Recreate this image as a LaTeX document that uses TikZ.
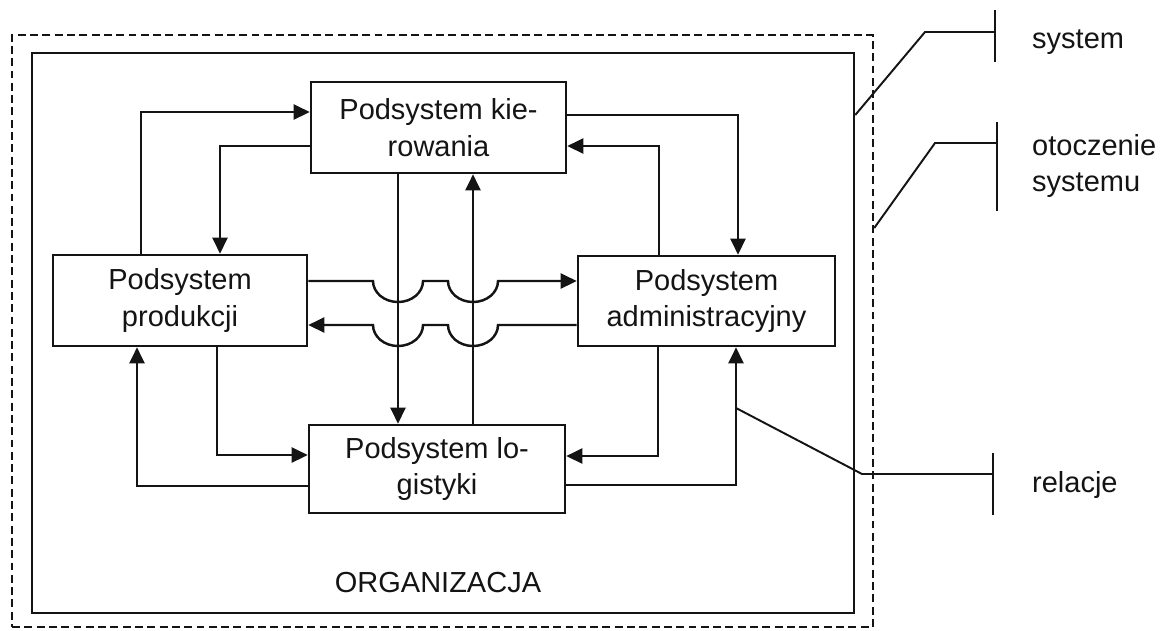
\documentclass[tikz,border=0pt]{standalone}
\usepackage{fontspec}
\setmainfont{Liberation Sans}
\usetikzlibrary{arrows.meta,calc}
\definecolor{osink}{HTML}{141414}
\tikzset{
  os text/.style={font=\fontsize{16.5}{21}\selectfont, text=osink},
  os box/.style={draw=osink, line width=1.5pt, fill=white, inner sep=0pt,
    minimum width=5.1cm, minimum height=1.8cm, align=center},
  os frame/.style={draw=osink, line width=1.5pt, inner sep=0pt},
  os env/.style={draw=osink, line width=1.5pt, inner sep=0pt,
    dash pattern=on 4.5pt off 2.5pt},
  os arrow/.style={-{Triangle[length=0.32cm,width=0.3cm]}, line width=1.4pt,
    draw=osink},
  os leader/.style={line width=1.1pt, draw=osink},
  os label/.style={anchor=west, align=left}
}
\begin{document}
\begin{tikzpicture}[os text, x=0.02cm, y=-0.02cm]
  \useasboundingbox (0,0) rectangle (1166,630);
  \node[os env, minimum width=17.22cm, minimum height=11.84cm] (env) at (442.5,331) {};
  \node[os frame, minimum width=16.44cm, minimum height=11.2cm] (org) at (443,333) {};
  \node (orgname) at (438,583) {ORGANIZACJA};
  \node[os box, minimum width=5.1cm, minimum height=1.82cm] (kier) at (438.5,127.5) {Podsystem kie-\\rowania};
  \node[os box, minimum width=5.08cm, minimum height=1.82cm] (prod) at (180,300.5) {Podsystem\\produkcji};
  \node[os box, minimum width=5.14cm] (adm) at (706.5,301) {Podsystem\\administracyjny};
  \node[os box, minimum width=5.12cm, minimum height=1.76cm] (log) at (437,469) {Podsystem lo-\\gistyki};
  % bend points
  \coordinate (b1) at (141,112);
  \coordinate (b2) at (220,146);
  \coordinate (b5) at (738,115);
  \coordinate (b6) at (659,146);
  \coordinate (b9) at (217,455);
  \coordinate (b10) at (137,486);
  \coordinate (b11) at (658,456);
  \coordinate (b12) at (736,485);
  \coordinate (v1) at (398,0);
  \coordinate (v2) at (473,0);
  \coordinate (h1) at (0,281);
  \coordinate (h2) at (0,325);
  % relations
  \draw[os arrow] (prod.north -| b1) -- (b1) -- (b1 -| kier.west);
  \draw[os arrow] (kier.west |- b2) -- (b2) -- (b2 |- prod.north);
  \draw[os arrow] (kier.south -| v1) -- (v1 |- log.north);
  \draw[os arrow] (log.north -| v2) -- (v2 |- kier.south);
  \draw[os arrow] (kier.east |- b5) -- (b5) -- (b5 |- adm.north);
  \draw[os arrow] (adm.north -| b6) -- (b6) -- (b6 -| kier.east);
  \draw[os arrow] (prod.east |- h1) -- ($(v1 |- h1)+(-25,0)$)
    arc[start angle=180, end angle=0, x radius=25, y radius=21]
    -- ($(v2 |- h1)+(-25,0)$)
    arc[start angle=180, end angle=0, x radius=25, y radius=21]
    -- (adm.west |- h1);
  \draw[os arrow] (adm.west |- h2) -- ($(v2 |- h2)+(25,0)$)
    arc[start angle=0, end angle=180, x radius=25, y radius=21]
    -- ($(v1 |- h2)+(25,0)$)
    arc[start angle=0, end angle=180, x radius=25, y radius=21]
    -- (prod.east |- h2);
  \draw[os arrow] (prod.south -| b9) -- (b9) -- (b9 -| log.west);
  \draw[os arrow] (log.west |- b10) -- (b10) -- (b10 |- prod.south);
  \draw[os arrow] (adm.south -| b11) -- (b11) -- (b11 -| log.east);
  \draw[os arrow] (log.east |- b12) -- (b12) -- (b12 |- adm.south);
  % legend
  \coordinate (tsys) at (995,32);
  \coordinate (tenv) at (997,143);
  \coordinate (trel) at (993,474);
  \node[os label] (lsys) at (1026,42) {system};
  \node[os label] (lenv) at (1026,166) {otoczenie\\systemu};
  \node[os label] (lrel) at (1026,485) {relacje};
  \draw[os leader] (org.east |- 0,115) -- (925,32) -- (tsys);
  \draw[os leader] (tsys) ++(0,-22) -- ++(0,52);
  \draw[os leader] (env.east |- 0,228) -- (935,143) -- (tenv);
  \draw[os leader] (tenv) ++(0,-21) -- ++(0,89);
  \draw[os leader] (b12 |- 0,408) -- (862,474) -- (trel);
  \draw[os leader] (trel) ++(0,-21) -- ++(0,62);
\end{tikzpicture}
\end{document}
